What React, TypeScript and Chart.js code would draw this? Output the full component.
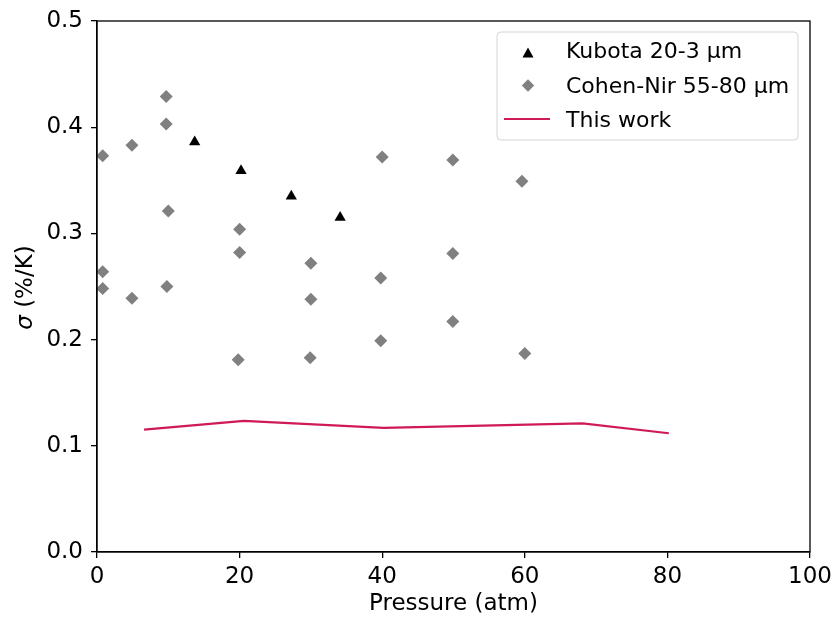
import React, { useEffect, useRef } from "react";
import { Chart, registerables } from "chart.js";

Chart.register(...registerables);

const kubotaX = [13.7, 20.2, 27.25, 34.1];
const kubotaY = [0.386, 0.359, 0.335, 0.315];

const cohenX = [0.8, 0.8, 0.8, 4.9, 4.9, 9.7, 9.7, 10.0, 9.8, 20.0, 20.0, 19.8, 30.0, 30.0, 29.9, 40.0, 39.8, 39.8, 49.9, 49.9, 49.9, 59.6, 60.0];
const cohenY = [0.373, 0.264, 0.248, 0.383, 0.239, 0.429, 0.403, 0.321, 0.250, 0.304, 0.282, 0.181, 0.272, 0.238, 0.183, 0.372, 0.258, 0.199, 0.369, 0.281, 0.217, 0.349, 0.187];

const workX = [6.6, 20.6, 40.2, 68.1, 80.2];
const workY = [0.1152, 0.1235, 0.1168, 0.1212, 0.1118];

const xTicks = [0, 20, 40, 60, 80, 100];
const yTicks = [0, 0.1, 0.2, 0.3, 0.4, 0.5];

const FONT = "DejaVu Sans";
const TICK_SIZE = 23;
const LEGEND_SIZE = 22;
const LINE_COLOR = "#cf1a56";
const GRAY = "#808080";

const legendItems = [
  { label: "Kubota 20-3 \u00b5m", kind: "triangle", color: "#000000" },
  { label: "Cohen-Nir 55-80 \u00b5m", kind: "diamond", color: GRAY },
  { label: "This work", kind: "line", color: LINE_COLOR },
];

const framePlugin = {
  id: "frame",
  afterDraw(chart: any) {
    const { ctx, chartArea } = chart;
    const { left, right, top, bottom } = chartArea;
    ctx.save();
    ctx.strokeStyle = "#000";
    ctx.lineWidth = 1.3;
    ctx.strokeRect(left, top, right - left, bottom - top);

    ctx.fillStyle = "#000";
    ctx.font = `${TICK_SIZE}px '${FONT}'`;
    ctx.textAlign = "center";
    ctx.textBaseline = "alphabetic";
    ctx.fillText("Pressure (atm)", (left + right) / 2, 610);

    ctx.save();
    ctx.translate(32, 287.5);
    ctx.rotate(-Math.PI / 2);
    const sig = "\u03c3";
    const rest = " (%/K)";
    ctx.font = `italic ${TICK_SIZE}px '${FONT}'`;
    const w1 = ctx.measureText(sig).width;
    ctx.font = `${TICK_SIZE}px '${FONT}'`;
    const w2 = ctx.measureText(rest).width;
    const start = -(w1 + w2) / 2;
    ctx.textAlign = "left";
    ctx.font = `italic ${TICK_SIZE}px '${FONT}'`;
    ctx.fillText(sig, start, 0);
    ctx.font = `${TICK_SIZE}px '${FONT}'`;
    ctx.fillText(rest, start + w1, 0);
    ctx.restore();

    const bx = 497, by = 32, bw = 301, bh = 108;
    ctx.fillStyle = "rgba(255,255,255,0.8)";
    ctx.strokeStyle = "#d5d5d5";
    ctx.lineWidth = 1;
    const r = 4;
    ctx.beginPath();
    ctx.moveTo(bx + r, by);
    ctx.lineTo(bx + bw - r, by);
    ctx.quadraticCurveTo(bx + bw, by, bx + bw, by + r);
    ctx.lineTo(bx + bw, by + bh - r);
    ctx.quadraticCurveTo(bx + bw, by + bh, bx + bw - r, by + bh);
    ctx.lineTo(bx + r, by + bh);
    ctx.quadraticCurveTo(bx, by + bh, bx, by + bh - r);
    ctx.lineTo(bx, by + r);
    ctx.quadraticCurveTo(bx, by, bx + r, by);
    ctx.closePath();
    ctx.fill();
    ctx.stroke();

    const rows = [52.5, 85.5, 119];
    const baselines = [57.5, 93, 126.5];
    legendItems.forEach((it, i) => {
      const y = rows[i];
      const cx = 528;
      ctx.fillStyle = it.color;
      ctx.strokeStyle = it.color;
      if (it.kind === "triangle") {
        const hw = 5.5, hh = 5;
        ctx.beginPath();
        ctx.moveTo(cx, y - hh);
        ctx.lineTo(cx + hw, y + hh);
        ctx.lineTo(cx - hw, y + hh);
        ctx.closePath();
        ctx.fill();
      } else if (it.kind === "diamond") {
        const s = 6.2;
        ctx.beginPath();
        ctx.moveTo(cx, y - s);
        ctx.lineTo(cx + s, y);
        ctx.lineTo(cx, y + s);
        ctx.lineTo(cx - s, y);
        ctx.closePath();
        ctx.fill();
      } else {
        ctx.lineWidth = 2.2;
        ctx.beginPath();
        ctx.moveTo(504, y);
        ctx.lineTo(550, y);
        ctx.stroke();
      }
      ctx.fillStyle = "#000";
      ctx.font = `${LEGEND_SIZE}px '${FONT}'`;
      ctx.textAlign = "left";
      ctx.textBaseline = "alphabetic";
      ctx.fillText(it.label, 566, baselines[i]);
    });
    ctx.restore();
  },
};

export default function App() {
  const ref = useRef<HTMLCanvasElement | null>(null);
  useEffect(() => {
    if (!ref.current) return;
    const chart = new Chart(ref.current, {
      type: "scatter",
      data: {
        datasets: [
          {
            label: "Kubota 20-3 \u00b5m",
            data: kubotaX.map((x, i) => ({ x, y: kubotaY[i] })),
            pointStyle: "triangle",
            pointRadius: 6.5,
            pointHoverRadius: 6.5,
            backgroundColor: "#000",
            borderColor: "#000",
            borderWidth: 0,
          },
          {
            label: "Cohen-Nir 55-80 \u00b5m",
            data: cohenX.map((x, i) => ({ x, y: cohenY[i] })),
            pointStyle: "rectRot",
            pointRadius: 6.5,
            pointHoverRadius: 6.5,
            backgroundColor: GRAY,
            borderColor: GRAY,
            borderWidth: 0,
          },
          {
            type: "line",
            label: "This work",
            data: workX.map((x, i) => ({ x, y: workY[i] })),
            showLine: true,
            borderColor: LINE_COLOR,
            backgroundColor: LINE_COLOR,
            borderWidth: 2.2,
            pointRadius: 0,
            fill: false,
            tension: 0,
          } as any,
        ],
      },
      options: {
        animation: false,
        responsive: false,
        maintainAspectRatio: false,
        layout: { padding: { top: 21, right: 24, left: 0, bottom: 0 } },
        plugins: { legend: { display: false }, tooltip: { enabled: false } },
        scales: {
          x: {
            type: "linear",
            min: 0,
            max: 100,
            afterFit: (s: any) => { s.height = 67; s.paddingRight = 0; s.paddingLeft = 0; },
            afterBuildTicks: (s: any) => { s.ticks = xTicks.map((v) => ({ value: v })); },
            grid: { drawOnChartArea: false, drawTicks: true, tickLength: 6, color: "#000", lineWidth: 1.3 },
            border: { display: true, color: "#000", width: 1.3 },
            ticks: { color: "#000", font: { family: FONT, size: TICK_SIZE }, padding: 5, maxRotation: 0, autoSkip: false },
          },
          y: {
            type: "linear",
            min: 0,
            max: 0.5,
            afterFit: (s: any) => { s.width = 97; s.paddingTop = 0; s.paddingBottom = 0; },
            afterBuildTicks: (s: any) => { s.ticks = yTicks.map((v) => ({ value: v })); },
            grid: { drawOnChartArea: false, drawTicks: true, tickLength: 6, color: "#000", lineWidth: 1.3 },
            border: { display: true, color: "#000", width: 1.3 },
            ticks: {
              color: "#000",
              font: { family: FONT, size: TICK_SIZE },
              padding: 8,
              autoSkip: false,
              callback: (v: any) => Number(v).toFixed(1),
            },
          },
        },
      },
      plugins: [framePlugin],
    });
    return () => chart.destroy();
  }, []);
  return (
    <div style={{ position: "fixed", left: 0, top: 0, width: 834, height: 619, background: "#fff" }}>
      <canvas ref={ref} width={834} height={619} style={{ width: 834, height: 619 }} />
    </div>
  );
}
